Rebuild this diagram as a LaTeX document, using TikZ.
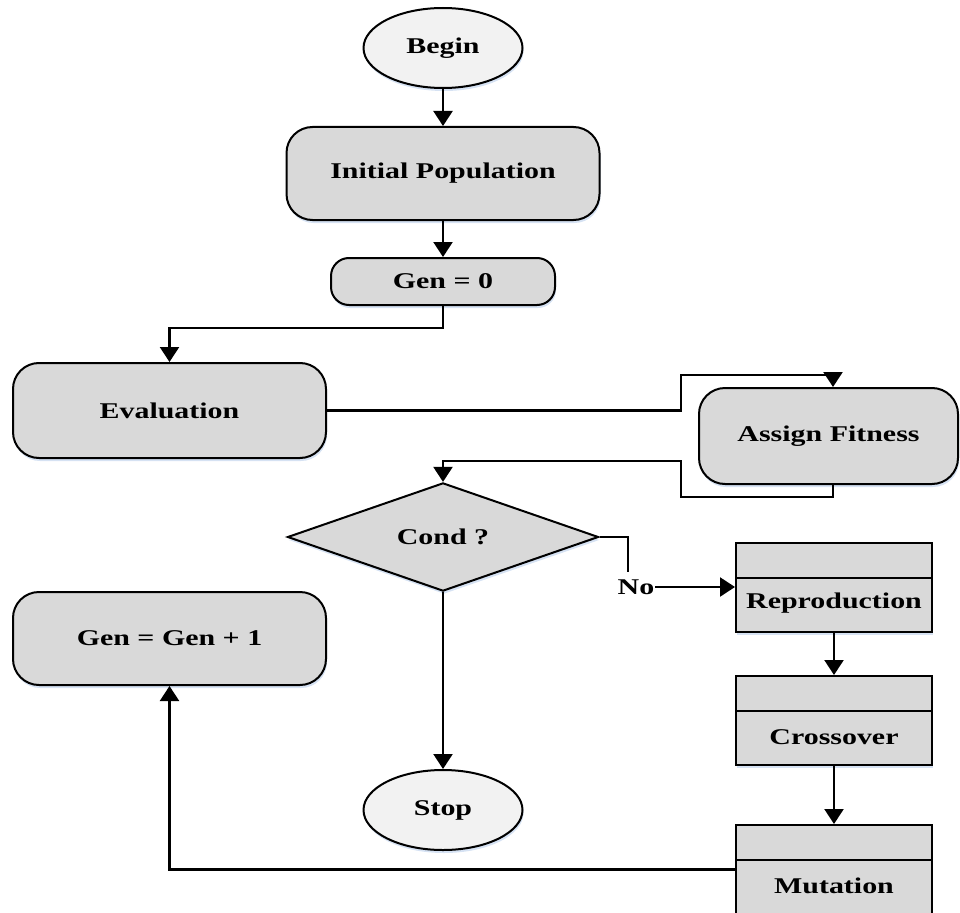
\documentclass[tikz,border=0pt]{standalone}
\usepackage{fontspec}
\setmainfont{Liberation Serif}
\usetikzlibrary{shapes.geometric,arrows.meta,shadows}
% labels are set wide, as in the original drawing
\newcommand{\widetxt}[1]{\scalebox{1.33}[1]{#1}}
\definecolor{boxgray}{HTML}{D9D9D9}
\definecolor{termgray}{HTML}{F2F2F2}
\definecolor{glow}{HTML}{C4D6EE}
\begin{document}
\begin{tikzpicture}[x=1pt,y=-1pt,
  every node/.style={font=\fontsize{22.5}{27}\bfseries\selectfont, inner sep=0pt},
  soft/.style={drop shadow={shadow xshift=1pt,shadow yshift=-3pt,fill=glow,opacity=0.7}},
  roundbox/.style={draw, line width=2pt, fill=boxgray, rounded corners=26pt, soft},
  terminal/.style={draw, ellipse, line width=2pt, fill=termgray,
                   minimum width=159pt, minimum height=80pt, soft},
  decision/.style={draw, diamond, line width=2pt, fill=boxgray,
                   minimum width=311pt, minimum height=108pt, soft},
  procbox/.style={draw, rectangle, line width=2pt, fill=boxgray,
                  minimum width=196pt, minimum height=89pt, soft},
  divider/.style={line width=2pt},
  link/.style={line width=2.3pt},
  arr/.style={link, -{Triangle[length=15pt,width=19pt]}},
]
\useasboundingbox (0,0) rectangle (960,912);

% main column
\node[terminal] (begin) at (443,48) {\widetxt{Begin}};
\node[roundbox, minimum width=313pt, minimum height=93pt] (init) at (443,173.5) {\widetxt{Initial Population}};
\node[roundbox, rounded corners=18pt, minimum width=224pt, minimum height=47pt] (gen0) at (443,281.5) {\widetxt{Gen = 0}};
\node[roundbox, minimum width=313pt, minimum height=95pt] (eval) at (169.5,410.5) {\widetxt{Evaluation}};
\node[roundbox, minimum width=259pt, minimum height=96pt] (assign) at (828.5,436) {\widetxt{Assign Fitness}};
\node[decision] (cond) at (443,537) {\widetxt{Cond ?}};
\node[terminal] (stop) at (443,810) {\widetxt{Stop}};
\node[roundbox, minimum width=313pt, minimum height=93pt] (geninc) at (169.5,638.5) {\widetxt{Gen = Gen + 1}};

% genetic operators
\node[procbox] (repro) at (834,587) {};
\node[procbox] (cross) at (834,720.5) {};
\node[procbox] (mut) at (834,869.5) {};
\foreach \n in {repro,cross,mut}
  \draw[divider] ([yshift=-36pt]\n.north west) -- ([yshift=-36pt]\n.north east);
\node (repro-t) at ([yshift=-62pt]repro.north) {\widetxt{Reproduction}};
\node (cross-t) at ([yshift=-62pt]cross.north) {\widetxt{Crossover}};
\node (mut-t) at ([yshift=-62pt]mut.north) {\widetxt{Mutation}};

\node[inner xsep=1pt, inner ysep=7pt] (no) at (636,587) {\widetxt{No}};

% bends of the fitness loop
\coordinate (up1) at (681,375);
\coordinate (dn1) at (681,497);
\coordinate (dn2) at (681,461);

% connectors
\draw[arr] (begin.south) -- (init.north);
\draw[arr] (init.south) -- (gen0.north);
\draw[arr] (gen0.south) -- ++(0,22) -| (eval.north);
\draw[arr] (eval.east) -| (up1) -| ([xshift=4.5pt]assign.north);
\draw[arr] ([xshift=4.5pt]assign.south) |- (dn1) -- (dn2) -| (cond.north);
\draw[link] (cond.east) -| ([xshift=-8pt]no.north);
\draw[arr] (no.east) -- (repro.west);
\draw[arr] (repro.south) -- (cross.north);
\draw[arr] (cross.south) -- (mut.north);
\draw[arr] (mut.west) -| (geninc.south);
\draw[arr] (cond.south) -- (stop.north);
\end{tikzpicture}
\end{document}
